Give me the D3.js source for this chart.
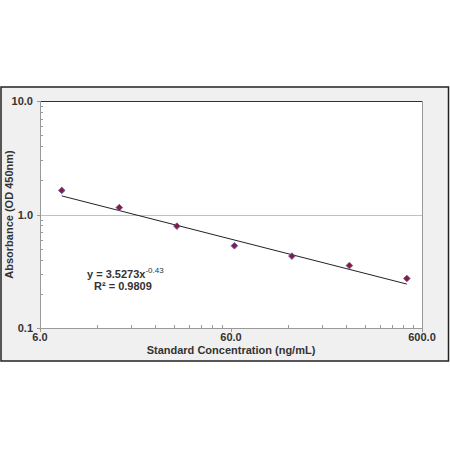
<!DOCTYPE html>
<html>
  <head>
    <meta charset="utf-8">
    <title>Standard Curve</title>
    <script src="https://d3js.org/d3.v7.min.js"></script>
  </head>
  <style>
    body { margin: 0; background: #fff; }
    svg { display: block; font-family: Arial, "Liberation Sans", sans-serif; }
    .tick-label { font-size: 11px; font-weight: bold; fill: #333; }
    .axis-title { font-size: 11px; font-weight: bold; fill: #333; }
    .trend { fill: none; stroke: #222; stroke-width: 1; }
  </style>
  <body>
    <script type="text/javascript">
      var width = 450;
      var height = 450;

      // standard concentrations (ng/mL) and absorbance readings
      const concentration = [7.8, 15.6, 31.25, 62.5, 125, 250, 500];
      const absorbance = [1.63, 1.15, 0.79, 0.53, 0.43, 0.355, 0.273];
      // power trendline y = a * x^b
      const trendA = 3.5273;
      const trendB = -0.43;
      const xTicks = [6, 60, 600];
      const yTicks = [0.1, 1, 10];

      const plot = {left: 40, right: 422, top: 101, bottom: 328};

      const svg = d3.select('body').append('svg').attr('width', width).attr('height', height);

      // outer chart frame
      svg.append('rect').attr('x', 1).attr('y', 87).attr('width', 447.5).attr('height', 274)
        .attr('fill', '#f0f0f0').attr('stroke', '#222').attr('stroke-width', 1.5);
      svg.append('rect').attr('x', plot.left).attr('y', plot.top)
        .attr('width', plot.right - plot.left).attr('height', plot.bottom - plot.top)
        .attr('fill', '#fff');

      const x = d3.scaleLog().domain([6, 600]).range([plot.left, plot.right]);
      const y = d3.scaleLog().domain([0.1, 10]).range([plot.bottom, plot.top]);

      // minor ticks (Excel style: multiples of the decade start)
      const xMinor = [];
      [6, 60].forEach(b => { for (let k = 2; k <= 9; k++) xMinor.push(b * k); });
      const yMinor = [];
      [0.1, 1].forEach(b => { for (let k = 2; k <= 9; k++) yMinor.push(b * k); });

      // gridline at 1.0
      svg.append('line').attr('x1', plot.left).attr('x2', plot.right)
        .attr('y1', Math.round(y(1)) + 0.5).attr('y2', Math.round(y(1)) + 0.5)
        .attr('stroke', '#c0c0c0');

      // plot borders
      svg.append('line').attr('x1', plot.left).attr('x2', plot.right)
        .attr('y1', plot.top + 0.5).attr('y2', plot.top + 0.5).attr('stroke', '#333');
      svg.append('line').attr('x1', plot.right + 0.5).attr('x2', plot.right + 0.5)
        .attr('y1', plot.top).attr('y2', plot.bottom).attr('stroke', '#999');

      const gx = svg.append('g');
      gx.selectAll('line.minor').data(xMinor).enter().append('line')
        .attr('x1', d => Math.round(x(d)) + 0.5).attr('x2', d => Math.round(x(d)) + 0.5)
        .attr('y1', plot.bottom - 3).attr('y2', plot.bottom).attr('stroke', '#999');
      gx.selectAll('line.major').data(xTicks).enter().append('line')
        .attr('x1', d => Math.round(x(d)) + 0.5).attr('x2', d => Math.round(x(d)) + 0.5)
        .attr('y1', plot.bottom).attr('y2', plot.bottom + 4).attr('stroke', '#999');
      gx.append('line').attr('x1', plot.left - 3).attr('x2', plot.right + 1)
        .attr('y1', plot.bottom + 0.5).attr('y2', plot.bottom + 0.5).attr('stroke', '#999');
      gx.selectAll('text').data(xTicks).enter().append('text').attr('class', 'tick-label')
        .attr('x', d => x(d)).attr('y', plot.bottom + 13).attr('text-anchor', 'middle')
        .text(d => d3.format('.1f')(d));

      const gy = svg.append('g');
      gy.selectAll('line.minor').data(yMinor).enter().append('line')
        .attr('y1', d => Math.round(y(d)) + 0.5).attr('y2', d => Math.round(y(d)) + 0.5)
        .attr('x1', plot.left).attr('x2', plot.left + 3).attr('stroke', '#999');
      gy.selectAll('line.major').data(yTicks).enter().append('line')
        .attr('y1', d => Math.round(y(d)) + 0.5).attr('y2', d => Math.round(y(d)) + 0.5)
        .attr('x1', plot.left - 3).attr('x2', plot.left).attr('stroke', '#999');
      gy.append('line').attr('x1', plot.left + 0.5).attr('x2', plot.left + 0.5)
        .attr('y1', plot.top).attr('y2', plot.bottom + 3).attr('stroke', '#999');
      gy.selectAll('text').data(yTicks).enter().append('text').attr('class', 'tick-label')
        .attr('x', plot.left - 7).attr('y', d => y(d) + 4).attr('text-anchor', 'end')
        .text(d => d3.format('.1f')(d));

      // axis titles
      svg.append('text').attr('class', 'axis-title')
        .attr('x', (plot.left + plot.right) / 2).attr('y', 354).attr('text-anchor', 'middle')
        .text('Standard Concentration (ng/mL)');
      svg.append('text').attr('class', 'axis-title')
        .attr('transform', 'translate(13,' + (plot.top + plot.bottom) / 2 + ') rotate(-90)')
        .attr('text-anchor', 'middle')
        .text('Absorbance  (OD 450nm)');

      // trendline
      const xs = [concentration[0], concentration[concentration.length - 1]];
      svg.append('path').attr('class', 'trend')
        .attr('d', d3.line().x(d => x(d)).y(d => y(trendA * Math.pow(d, trendB)))(xs));

      // data points (square rotated to a diamond)
      const data = concentration.map((c, i) => ({c: c, a: absorbance[i]}));
      svg.append('g').selectAll('path').data(data).enter().append('path')
        .attr('d', d3.symbol().type(d3.symbolSquare).size(22))
        .attr('transform', d => 'translate(' + x(d.c) + ',' + y(d.a) + ') rotate(45)')
        .attr('fill', '#8b1a40').attr('stroke', '#5b5bb0').attr('stroke-width', 0.8);

      // equation
      const eq = svg.append('text').attr('class', 'axis-title').attr('x', 87).attr('y', 278);
      eq.append('tspan').text('y = ' + trendA + 'x');
      eq.append('tspan').attr('dy', -5).style('font-size', '8px').style('font-weight', 'normal').text(trendB);
      svg.append('text').attr('class', 'axis-title').attr('x', 94).attr('y', 290)
        .text('R\u00B2 = 0.9809');
    </script>
  </body>
</html>
